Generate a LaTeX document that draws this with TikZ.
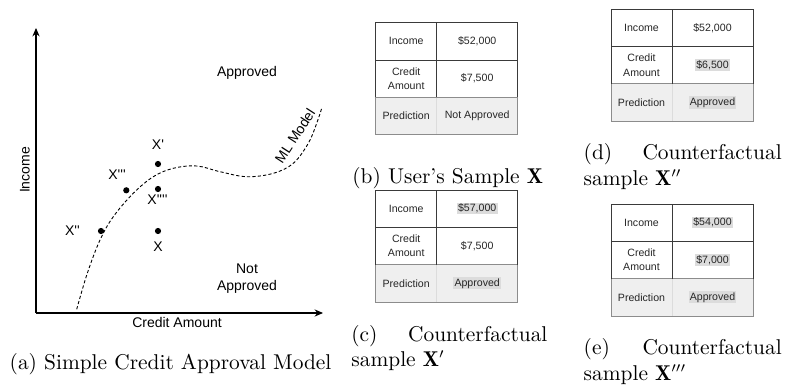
\documentclass[tikz,border=0pt]{standalone}
\usepackage{fontspec}
\usetikzlibrary{arrows.meta}
\newfontfamily\plotfont{Liberation Sans}

\definecolor{darkrule}{HTML}{3A3A3A}
\definecolor{midrule}{HTML}{8C8C8C}
\definecolor{faintrule}{HTML}{DCDCDC}
\definecolor{predfill}{HTML}{EFEFEF}
\definecolor{hlgray}{HTML}{DCDCDC}

% light grey highlight behind a changed value
\newcommand{\hlbox}[1]{{\setlength{\fboxsep}{0.6pt}\colorbox{hlgray}{#1}}}

% one sample table: #1 name prefix, #2 left x, #3 top y,
% #4 income, #5 credit amount, #6 prediction
\newcommand{\cftable}[6]{%
  \begin{scope}[shift={(#2,#3)}]
    \fill[predfill] (0,74.6) rectangle (142,112);
    \draw[faintrule, line width=0.4pt] (61,74.6) -- (61,112);
    \draw[midrule, line width=0.45pt] (0,74.6) -- (0,112) -- (142,112) -- (142,74.6) -- cycle;
    \draw[darkrule, line width=0.45pt] (0,74.6) -- (0,0) -- (142,0) -- (142,74.6)
      (0,37.3) -- (142,37.3) (61,0) -- (61,74.6);
    \node[cell] (#1-k1) at (30.5,18.65) {Income};
    \node[cell] (#1-v1) at (101.5,18.65) {#4};
    \node[cell] (#1-k2) at (30.5,55.95) {Credit\\Amount};
    \node[cell] (#1-v2) at (101.5,55.95) {#5};
    \node[cell] (#1-k3) at (30.5,93.3) {Prediction};
    \node[cell] (#1-v3) at (101.5,93.3) {#6};
  \end{scope}}

\begin{document}
\begin{tikzpicture}[x=0.5pt, y=-0.5pt,
  cell/.style={inner sep=0pt, align=center, text=black!85,
    font=\plotfont\fontsize{5.3}{7.1}\selectfont},
  plotlabel/.style={inner sep=0pt, align=center, font=\plotfont\fontsize{7}{8.6}\selectfont},
  axisline/.style={line width=0.65pt, -{Stealth[length=4.2pt, width=3.6pt]}},
  model/.style={line width=0.45pt, dash pattern=on 1.6pt off 1.1pt},
  sample/.style={circle, fill=black, inner sep=0pt, minimum size=3.1pt},
  caption/.style={inner sep=0pt, anchor=base west, font=\fontsize{10.7}{12.5}\selectfont}]

\useasboundingbox (0,0) rectangle (787,385);

% ---- (a) credit approval plot ----
\coordinate (origin) at (36,313);
\coordinate (ytip) at (36,28);
\coordinate (xtip) at (323,313);
\draw[axisline] (origin) -- (ytip);
\draw[axisline] (origin) -- (xtip);

\node[plotlabel, rotate=90] (income) at (25,170) {Income};
\node[plotlabel] (credit) at (177,322) {Credit Amount};
\node[plotlabel] (appr) at (247,73) {Approved};
\node[plotlabel] (notappr) at (247,278.5) {Not\\Approved};

% decision boundary of the model
\draw[model] plot[smooth, tension=0.6] coordinates {
  (76.7,309.3) (87.3,273.3) (100,240) (113.3,216.7) (133.3,193.3)
  (153.3,176.7) (173.3,168.3) (196.7,166) (220,171.7) (246.7,176.7)
  (273.3,173.3) (293.3,163.3) (308.3,143.3) (316.7,123.3) (321.7,108.3)};
\node[plotlabel, rotate=57] (mllabel) at (295,136) {ML Model};

% samples
\node[sample] (px) at (158,231) {};
\node[sample] (px1) at (158,164) {};
\node[sample] (px2) at (101,231) {};
\node[sample] (px3) at (126.3,190.3) {};
\node[sample] (px4) at (158,189) {};
\node[plotlabel] (lx) at (158,247) {X};
\node[plotlabel] (lx1) at (158,145) {X\textquotesingle};
\node[plotlabel] (lx2) at (72.5,231) {X\textquotesingle\textquotesingle};
\node[plotlabel] (lx3) at (117,175) {X\textquotesingle\textquotesingle\textquotesingle};
\node[plotlabel] (lx4) at (157.5,200) {X\textquotesingle\textquotesingle\textquotesingle\textquotesingle};

\node[caption] (capa) at (9.3,369.3) {(a) Simple Credit Approval Model};

% ---- (b)-(e) sample tables ----
\cftable{tb}{375.7}{22.7}{\$52,000}{\$7,500}{Not Approved}
\node[caption] (capb) at (352,184) {(b) User's Sample $\mathbf{X}$};

\cftable{tc}{375.7}{190}{\hlbox{\$57,000}}{\$7,500}{\hlbox{Approved}}
\node[caption] (capc1) at (351,341.7) {\hbox to 98pt{(c)\hfill Counterfactual}};
\node[caption] (capc2) at (351,366.2) {sample $\mathbf{X}'$};

\cftable{td}{611}{9.3}{\$52,000}{\hlbox{\$6,500}}{\hlbox{Approved}}
\node[caption] (capd1) at (583.3,159.3) {\hbox to 99pt{(d)\hfill Counterfactual}};
\node[caption] (capd2) at (583.3,185.8) {sample $\mathbf{X}''$};

\cftable{te}{611}{204}{\hlbox{\$54,000}}{\hlbox{\$7,000}}{\hlbox{Approved}}
\node[caption] (cape1) at (583.3,354) {\hbox to 99pt{(e)\hfill Counterfactual}};
\node[caption] (cape2) at (583.3,380.5) {sample $\mathbf{X}'''$};

\end{tikzpicture}
\end{document}
